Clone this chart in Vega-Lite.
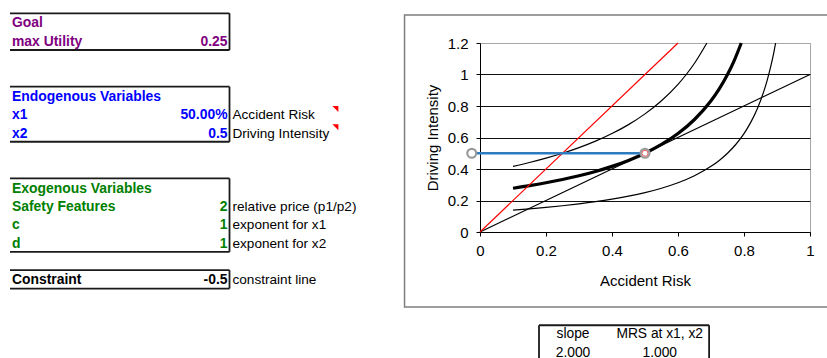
{
  "$schema": "https://vega.github.io/schema/vega-lite/v6.json",
  "width": 330,
  "height": 189,
  "autosize": {"type": "none"},
  "padding": {"left": 480, "top": 43, "right": 17, "bottom": 126},
  "background": "#ffffff",
  "config": {"view": {"stroke": "#a6a6a6", "strokeWidth": 1}, "font": "Liberation Sans"},
  "datasets": {
    "curves": [
      {"s": "low", "x": 0.1, "y": 0.1389}, {"s": "low", "x": 0.15, "y": 0.1471}, {"s": "low", "x": 0.2, "y": 0.1563},
      {"s": "low", "x": 0.25, "y": 0.1667}, {"s": "low", "x": 0.3, "y": 0.1786}, {"s": "low", "x": 0.35, "y": 0.1923},
      {"s": "low", "x": 0.4, "y": 0.2083}, {"s": "low", "x": 0.45, "y": 0.2273}, {"s": "low", "x": 0.5, "y": 0.25},
      {"s": "low", "x": 0.55, "y": 0.2778}, {"s": "low", "x": 0.6, "y": 0.3125}, {"s": "low", "x": 0.65, "y": 0.3571},
      {"s": "low", "x": 0.7, "y": 0.4167}, {"s": "low", "x": 0.725, "y": 0.4545}, {"s": "low", "x": 0.75, "y": 0.5},
      {"s": "low", "x": 0.775, "y": 0.5556}, {"s": "low", "x": 0.8, "y": 0.625}, {"s": "low", "x": 0.82, "y": 0.6944},
      {"s": "low", "x": 0.84, "y": 0.7813}, {"s": "low", "x": 0.86, "y": 0.8929}, {"s": "low", "x": 0.87, "y": 0.9615},
      {"s": "low", "x": 0.88, "y": 1.0417}, {"s": "low", "x": 0.89, "y": 1.1364}, {"s": "low", "x": 0.8958, "y": 1.2},
      {"s": "mid", "x": 0.1, "y": 0.2778}, {"s": "mid", "x": 0.15, "y": 0.2941}, {"s": "mid", "x": 0.2, "y": 0.3125},
      {"s": "mid", "x": 0.25, "y": 0.3333}, {"s": "mid", "x": 0.3, "y": 0.3571}, {"s": "mid", "x": 0.35, "y": 0.3846},
      {"s": "mid", "x": 0.4, "y": 0.4167}, {"s": "mid", "x": 0.45, "y": 0.4545}, {"s": "mid", "x": 0.5, "y": 0.5},
      {"s": "mid", "x": 0.55, "y": 0.5556}, {"s": "mid", "x": 0.6, "y": 0.625}, {"s": "mid", "x": 0.65, "y": 0.7143},
      {"s": "mid", "x": 0.7, "y": 0.8333}, {"s": "mid", "x": 0.725, "y": 0.9091}, {"s": "mid", "x": 0.75, "y": 1.0},
      {"s": "mid", "x": 0.77, "y": 1.087}, {"s": "mid", "x": 0.7917, "y": 1.2},
      {"s": "up", "x": 0.1, "y": 0.4167}, {"s": "up", "x": 0.15, "y": 0.4412}, {"s": "up", "x": 0.2, "y": 0.4688},
      {"s": "up", "x": 0.25, "y": 0.5}, {"s": "up", "x": 0.3, "y": 0.5357}, {"s": "up", "x": 0.35, "y": 0.5769},
      {"s": "up", "x": 0.4, "y": 0.625}, {"s": "up", "x": 0.45, "y": 0.6818}, {"s": "up", "x": 0.5, "y": 0.75},
      {"s": "up", "x": 0.55, "y": 0.8333}, {"s": "up", "x": 0.6, "y": 0.9375}, {"s": "up", "x": 0.625, "y": 1.0},
      {"s": "up", "x": 0.65, "y": 1.0714}, {"s": "up", "x": 0.6875, "y": 1.2},
      {"s": "diag", "x": 0, "y": 0}, {"s": "diag", "x": 1, "y": 1},
      {"s": "budget", "x": 0, "y": 0}, {"s": "budget", "x": 0.6, "y": 1.2},
      {"s": "opt", "x": -0.025, "y": 0.5}, {"s": "opt", "x": 0.5, "y": 0.5}
    ],
    "cells": [
      {"row": 1, "col": 0, "text": "Goal", "kind": "label", "grp": "goal"},
      {"row": 2, "col": 0, "text": "max Utility", "kind": "label", "grp": "goal"},
      {"row": 2, "col": 4, "text": "0.25", "kind": "value", "grp": "goal"},
      {"row": 5, "col": 0, "text": "Endogenous Variables", "kind": "label", "grp": "endo"},
      {"row": 6, "col": 0, "text": "x1", "kind": "label", "grp": "endo"},
      {"row": 6, "col": 4, "text": "50.00%", "kind": "value", "grp": "endo"},
      {"row": 6, "col": 4, "text": "Accident Risk", "kind": "desc", "grp": "black"},
      {"row": 7, "col": 0, "text": "x2", "kind": "label", "grp": "endo"},
      {"row": 7, "col": 4, "text": "0.5", "kind": "value", "grp": "endo"},
      {"row": 7, "col": 4, "text": "Driving Intensity", "kind": "desc", "grp": "black"},
      {"row": 10, "col": 0, "text": "Exogenous Variables", "kind": "label", "grp": "exo"},
      {"row": 11, "col": 0, "text": "Safety Features", "kind": "label", "grp": "exo"},
      {"row": 11, "col": 4, "text": "2", "kind": "value", "grp": "exo"},
      {"row": 11, "col": 4, "text": "relative price (p1/p2)", "kind": "desc", "grp": "black"},
      {"row": 12, "col": 0, "text": "c", "kind": "label", "grp": "exo"},
      {"row": 12, "col": 4, "text": "1", "kind": "value", "grp": "exo"},
      {"row": 12, "col": 4, "text": "exponent for x1", "kind": "desc", "grp": "black"},
      {"row": 13, "col": 0, "text": "d", "kind": "label", "grp": "exo"},
      {"row": 13, "col": 4, "text": "1", "kind": "value", "grp": "exo"},
      {"row": 13, "col": 4, "text": "exponent for x2", "kind": "desc", "grp": "black"},
      {"row": 15, "col": 0, "text": "Constraint", "kind": "label", "grp": "black"},
      {"row": 15, "col": 4, "text": "-0.5", "kind": "value", "grp": "black"},
      {"row": 15, "col": 4, "text": "constraint line", "kind": "desc", "grp": "black"},
      {"row": 18, "col": 10.26, "text": "slope", "kind": "table", "grp": "black"},
      {"row": 18, "col": 11.84, "text": "MRS at x1, x2", "kind": "table", "grp": "black"},
      {"row": 19, "col": 10.26, "text": "2.000", "kind": "table", "grp": "black"},
      {"row": 19, "col": 11.84, "text": "1.000", "kind": "table", "grp": "black"}
    ],
    "borders": [
      {"x": 0, "x2": 4, "y": 0.5, "y2": 0.5}, {"x": 0, "x2": 4, "y": 2.5, "y2": 2.5}, {"x": 4, "x2": 4, "y": 0.5, "y2": 2.5},
      {"x": 0, "x2": 4, "y": 4.5, "y2": 4.5}, {"x": 0, "x2": 4, "y": 7.5, "y2": 7.5}, {"x": 4, "x2": 4, "y": 4.5, "y2": 7.5},
      {"x": 0, "x2": 4, "y": 9.5, "y2": 9.5}, {"x": 0, "x2": 4, "y": 13.5, "y2": 13.5}, {"x": 4, "x2": 4, "y": 9.5, "y2": 13.5},
      {"x": 0, "x2": 4, "y": 14.5, "y2": 14.5}, {"x": 0, "x2": 4, "y": 15.5, "y2": 15.5}, {"x": 4, "x2": 4, "y": 14.5, "y2": 15.5},
      {"x": 9.64, "x2": 12.74, "y": 17.5, "y2": 17.5}, {"x": 9.64, "x2": 9.64, "y": 17.5, "y2": 20}, {"x": 12.74, "x2": 12.74, "y": 17.5, "y2": 20}
    ],
    "flags": [
      {"row": 5.5, "col": 6}, {"row": 6.5, "col": 6}
    ]
  },
  "resolve": {"scale": {"x": "independent", "y": "independent"}},
  "layer": [
    {
      "layer": [
        {
          "data": {"values": [{}]},
          "mark": {"type": "rect", "fillOpacity": 0, "stroke": "#7f7f7f", "strokeWidth": 1.5},
          "encoding": {
            "x": {"datum": 7.19, "type": "quantitative", "scale": {"domain": [0, 15], "range": [-470, 353.125], "zero": false, "nice": false}, "axis": null},
            "x2": {"datum": 15.6},
            "y": {"datum": 0.593, "type": "quantitative", "scale": {"domain": [0, 20], "range": [-38.875, 328.125], "zero": false, "nice": false}, "axis": null},
            "y2": {"datum": 16.505}
          }
        },
        {
          "data": {"name": "borders"},
          "mark": {"type": "rule", "color": "#1a1a1a", "strokeWidth": 1.8},
          "encoding": {
            "x": {"field": "x", "type": "quantitative"},
            "x2": {"field": "x2"},
            "y": {"field": "y", "type": "quantitative"},
            "y2": {"field": "y2"}
          }
        },
        {
          "data": {"name": "cells"},
          "transform": [{"filter": "datum.kind == 'label'"}],
          "mark": {"type": "text", "align": "left", "baseline": "middle", "dx": 2, "dy": 1, "font": "Liberation Sans", "fontSize": 13.9, "fontWeight": "bold"},
          "encoding": {
            "x": {"field": "col", "type": "quantitative"},
            "y": {"field": "row", "type": "quantitative"},
            "text": {"field": "text"},
            "color": {"field": "grp", "type": "nominal", "scale": {"domain": ["goal", "endo", "exo", "black"], "range": ["#800080", "#0000ff", "#008000", "#000000"]}, "legend": null}
          }
        },
        {
          "data": {"name": "cells"},
          "transform": [{"filter": "datum.kind == 'value'"}],
          "mark": {"type": "text", "align": "right", "baseline": "middle", "dx": -2, "dy": 1, "font": "Liberation Sans", "fontSize": 13.9, "fontWeight": "bold"},
          "encoding": {
            "x": {"field": "col", "type": "quantitative"},
            "y": {"field": "row", "type": "quantitative"},
            "text": {"field": "text"},
            "color": {"field": "grp", "type": "nominal", "legend": null}
          }
        },
        {
          "data": {"name": "cells"},
          "transform": [{"filter": "datum.kind == 'desc'"}],
          "mark": {"type": "text", "align": "left", "baseline": "middle", "dx": 3, "dy": 1, "font": "Liberation Sans", "fontSize": 13.6, "color": "#000000"},
          "encoding": {
            "x": {"field": "col", "type": "quantitative"},
            "y": {"field": "row", "type": "quantitative"},
            "text": {"field": "text"}
          }
        },
        {
          "data": {"name": "cells"},
          "transform": [{"filter": "datum.kind == 'table'"}],
          "mark": {"type": "text", "align": "center", "baseline": "middle", "font": "Liberation Sans", "fontSize": 13.8, "color": "#000000"},
          "encoding": {
            "x": {"field": "col", "type": "quantitative"},
            "y": {"field": "row", "type": "quantitative"},
            "text": {"field": "text"}
          }
        },
        {
          "data": {"name": "flags"},
          "mark": {"type": "point", "shape": "M -2.3 0.3 L -0.3 0.3 L -0.3 2.3 Z", "size": 36, "filled": true, "color": "#ff0000", "opacity": 1, "strokeWidth": 0},
          "encoding": {
            "x": {"field": "col", "type": "quantitative"},
            "y": {"field": "row", "type": "quantitative"}
          }
        }
      ]
    },
    {
      "data": {"name": "curves"},
      "encoding": {
        "x": {
          "field": "x", "type": "quantitative",
          "scale": {"domain": [0, 1], "zero": false, "nice": false},
          "axis": {
            "orient": "bottom",
            "values": [0, 0.2, 0.4, 0.6, 0.8, 1], "format": "~g", "grid": false,
            "domainColor": "#000000", "domainWidth": 1, "tickColor": "#000000", "tickSize": 4, "tickWidth": 1,
            "labelFont": "Liberation Sans", "labelFontSize": 15, "labelColor": "#000000", "labelPadding": 7, "labelFlush": false,
            "title": "Accident Risk", "titleFont": "Liberation Sans", "titleFontSize": 15, "titleFontWeight": "normal", "titleColor": "#000000", "titlePadding": 15
          }
        },
        "y": {
          "field": "y", "type": "quantitative",
          "scale": {"domain": [0, 1.2], "zero": false, "nice": false},
          "axis": {
            "orient": "left",
            "values": [0, 0.2, 0.4, 0.6, 0.8, 1, 1.2], "format": "~g", "grid": true,
            "gridColor": {"condition": {"test": "datum.value > 1.1", "value": "#a6a6a6"}, "value": "#111111"}, "gridWidth": 1,
            "domainColor": "#000000", "domainWidth": 1, "tickColor": "#000000", "tickSize": 4, "tickWidth": 1,
            "labelFont": "Liberation Sans", "labelFontSize": 15, "labelColor": "#000000", "labelPadding": 8, "labelFlush": false,
            "title": "Driving Intensity", "titleFont": "Liberation Sans", "titleFontSize": 15, "titleFontWeight": "normal", "titleColor": "#000000", "titlePadding": 7
          }
        }
      },
      "layer": [
        {
          "transform": [{"filter": "datum.s == 'low' || datum.s == 'up' || datum.s == 'diag'"}],
          "mark": {"type": "line", "color": "#000000", "strokeWidth": 1.2, "interpolate": "monotone"},
          "encoding": {"detail": {"field": "s"}}
        },
        {
          "transform": [{"filter": "datum.s == 'mid'"}],
          "mark": {"type": "line", "color": "#000000", "strokeWidth": 3.2, "interpolate": "monotone"},
          "encoding": {}
        },
        {
          "transform": [{"filter": "datum.s == 'budget'"}],
          "mark": {"type": "line", "color": "#ff0000", "strokeWidth": 1.2},
          "encoding": {}
        },
        {
          "transform": [{"filter": "datum.s == 'opt'"}],
          "mark": {"type": "line", "color": "#2e7bbf", "strokeWidth": 2.5, "clip": false},
          "encoding": {}
        },
        {
          "transform": [{"filter": "datum.s == 'opt'"}],
          "mark": {"type": "point", "shape": "circle", "size": 80, "filled": true, "fill": "#ffffff", "fillOpacity": 1, "stroke": "#9a9a9a", "strokeWidth": 2.2, "opacity": 1, "clip": false},
          "encoding": {}
        },
        {
          "transform": [{"filter": "datum.s == 'opt' && datum.x == 0.5"}],
          "mark": {"type": "point", "shape": "circle", "size": 36, "filled": false, "stroke": "#e06060", "strokeWidth": 1, "opacity": 1},
          "encoding": {}
        }
      ]
    }
  ]
}
